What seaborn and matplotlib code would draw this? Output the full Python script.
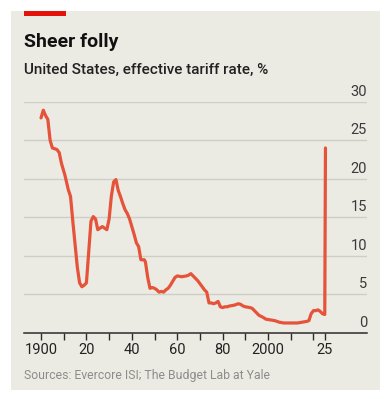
import pandas as pd
import matplotlib.pyplot as plt
import seaborn as sns
from matplotlib.patches import Rectangle

# Data (year, effective tariff rate %)
years = [1900, 1901, 1902, 1903, 1904, 1905, 1907, 1908, 1909, 1910.5,
         1912, 1913, 1914, 1915, 1916, 1917, 1918, 1919, 1920, 1921,
         1922, 1923, 1924, 1925, 1926, 1927, 1928, 1929, 1930, 1931,
         1932, 1933, 1934, 1935, 1936, 1937, 1938, 1939, 1940, 1941,
         1942, 1943, 1944, 1945.5, 1946, 1947, 1948, 1949, 1950, 1951,
         1952, 1953, 1954, 1955, 1956, 1957, 1958, 1959, 1960, 1962,
         1964, 1965, 1966, 1967, 1968, 1969, 1970, 1971, 1972, 1973,
         1974, 1975, 1976, 1977, 1978, 1979, 1980, 1981, 1982, 1983,
         1985, 1987, 1988, 1989, 1990, 1992, 1993, 1994, 1995, 1996,
         1998, 1999, 2001, 2003, 2005, 2007, 2010, 2013, 2015, 2017,
         2018, 2019, 2020, 2021, 2022, 2023, 2024, 2025, 2025.3]
rates = [27.9, 28.9, 28.2, 27.7, 25.0, 24.0, 23.8, 23.4, 22.0, 20.5,
         18.6, 17.7, 14.5, 11.5, 8.5, 6.5, 6.0, 6.2, 6.5, 10.5,
         14.5, 15.1, 14.8, 13.4, 13.6, 13.8, 13.6, 13.4, 14.8, 17.8,
         19.6, 19.9, 18.5, 17.7, 16.8, 16.0, 15.5, 14.8, 13.8, 12.8,
         11.7, 11.2, 9.5, 9.5, 9.2, 7.2, 5.8, 5.9, 5.8, 5.6,
         5.3, 5.4, 5.3, 5.6, 5.8, 6.2, 6.7, 7.2, 7.4, 7.3,
         7.4, 7.5, 7.7, 7.4, 7.1, 6.8, 6.4, 6.0, 5.6, 5.3,
         3.9, 3.9, 3.8, 3.9, 4.1, 3.4, 3.3, 3.4, 3.4, 3.5,
         3.6, 3.8, 3.7, 3.5, 3.4, 3.3, 3.2, 2.9, 2.6, 2.3,
         2.0, 1.8, 1.7, 1.6, 1.4, 1.3, 1.3, 1.3, 1.4, 1.5,
         1.6, 2.5, 2.9, 2.9, 3.0, 2.8, 2.5, 2.4, 24.0]

x_ticks = [1900, 1910, 1920, 1930, 1940, 1950, 1960, 1970, 1980, 1990,
           2000, 2010, 2020, 2025]
x_labels = ["1900", "", "20", "", "40", "", "60", "", "80", "",
            "2000", "", "", "25"]
y_ticks = [0, 5, 10, 15, 20, 25, 30]

df = pd.DataFrame({"year": years, "rate": rates})

BG = "#ECEBE3"
RED = "#E5533A"
sns.set_theme(style="white")
plt.rcParams["font.family"] = ["Roboto", "DejaVu Sans"]

fig = plt.figure(figsize=(3.84, 3.99), dpi=100, facecolor="white")
fig.patches.append(Rectangle((11 / 384, 9 / 399), 369 / 384, 379 / 399,
                             transform=fig.transFigure, facecolor=BG,
                             edgecolor="none", zorder=-10))
fig.patches.append(Rectangle((24 / 384, (399 - 16) / 399), 42 / 384, 5 / 399,
                             transform=fig.transFigure, facecolor="#E3120B",
                             edgecolor="none", zorder=-5))

ax = fig.add_axes([24 / 384, 0.1654, 343 / 384, 0.5797])
ax.set_facecolor(BG)

for y in y_ticks[1:]:
    ax.axhline(y, color="#CFCEC6", lw=1.0, zorder=0)

sns.lineplot(data=df, x="year", y="rate", ax=ax, color=RED, lw=2.3,
             zorder=3, clip_on=False)

ax.set_xlim(1892.5, 2043.6)
ax.set_ylim(0, 30)
for s in ["top", "right", "left"]:
    ax.spines[s].set_visible(False)
ax.spines["bottom"].set_color("#2b2b2b")
ax.spines["bottom"].set_linewidth(1.1)

ax.set_xticks(x_ticks)
ax.set_xticklabels(x_labels, fontsize=10.5, color="#222222")
ax.tick_params(axis="x", direction="out", length=5, width=1.0,
               color="#2b2b2b", pad=2, bottom=True)
ax.set_yticks([])
ax.set_xlabel("")
ax.set_ylabel("")

for y in y_ticks:
    ax.text(1.0, y + 0.4, str(y), transform=ax.get_yaxis_transform(),
            ha="right", va="bottom", fontsize=10.5, color="#3a3a3a")

fig.text(24 / 384, 1 - 47 / 399, "Sheer folly", fontsize=14,
         fontweight="bold", color="#111111", va="baseline")
fig.text(24 / 384, 1 - 74 / 399, "United States, effective tariff rate, %",
         fontsize=11, fontweight="medium", color="#222222", va="baseline")
fig.text(24 / 384, 1 - 379 / 399, "Sources: Evercore ISI; The Budget Lab at Yale",
         fontsize=8.8, color="#8c8c8c", va="baseline")

fig.savefig("out.png", dpi=100, facecolor="white")
